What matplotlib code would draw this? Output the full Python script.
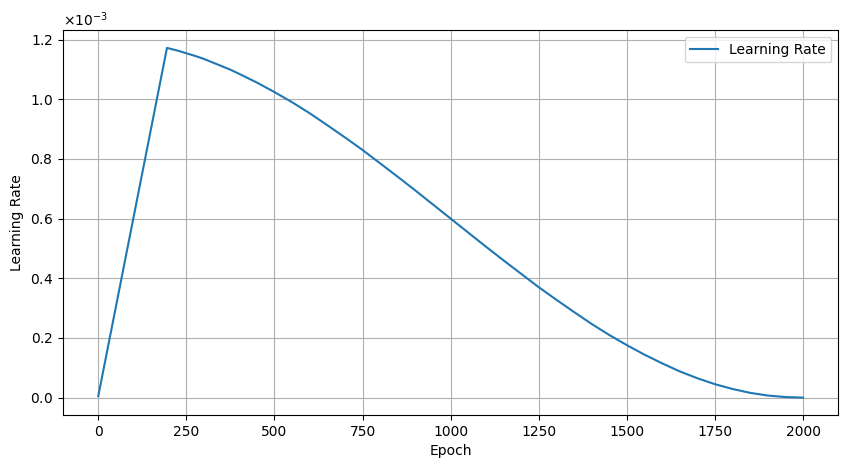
import numpy as np
from matplotlib import pyplot as plt

# learning rate values (units of 1e-3)
epochs = [0, 195, 225, 250, 275, 300, 325, 350, 375, 400, 450, 500, 550, 600,
          650, 700, 750, 800, 850, 900, 950, 1000, 1050, 1100, 1150, 1200,
          1250, 1300, 1350, 1400, 1450, 1500, 1550, 1600, 1650, 1700, 1750,
          1800, 1850, 1900, 1950, 2000]
lr_e3 = [0.005, 1.172, 1.163, 1.154, 1.145, 1.135, 1.123, 1.111, 1.099, 1.085,
         1.056, 1.024, 0.990, 0.953, 0.913, 0.872, 0.830, 0.785, 0.740, 0.694,
         0.647, 0.600, 0.553, 0.506, 0.460, 0.415, 0.370, 0.328, 0.287, 0.247,
         0.210, 0.176, 0.144, 0.115, 0.088, 0.065, 0.045, 0.029, 0.016, 0.007,
         0.002, 0.000]

lr = np.array(lr_e3) * 1e-3

fig = plt.figure(figsize=(8.47, 4.68), dpi=100)
ax = fig.add_axes([0.0744, 0.113, 0.9153, 0.822])

ax.plot(epochs, lr, label='Learning Rate')
ax.set_xlabel('Epoch')
ax.set_ylabel('Learning Rate')
ax.ticklabel_format(axis='y', style='sci', scilimits=(0, 0), useMathText=True)
ax.grid()
ax.legend()

plt.savefig('out.png')
